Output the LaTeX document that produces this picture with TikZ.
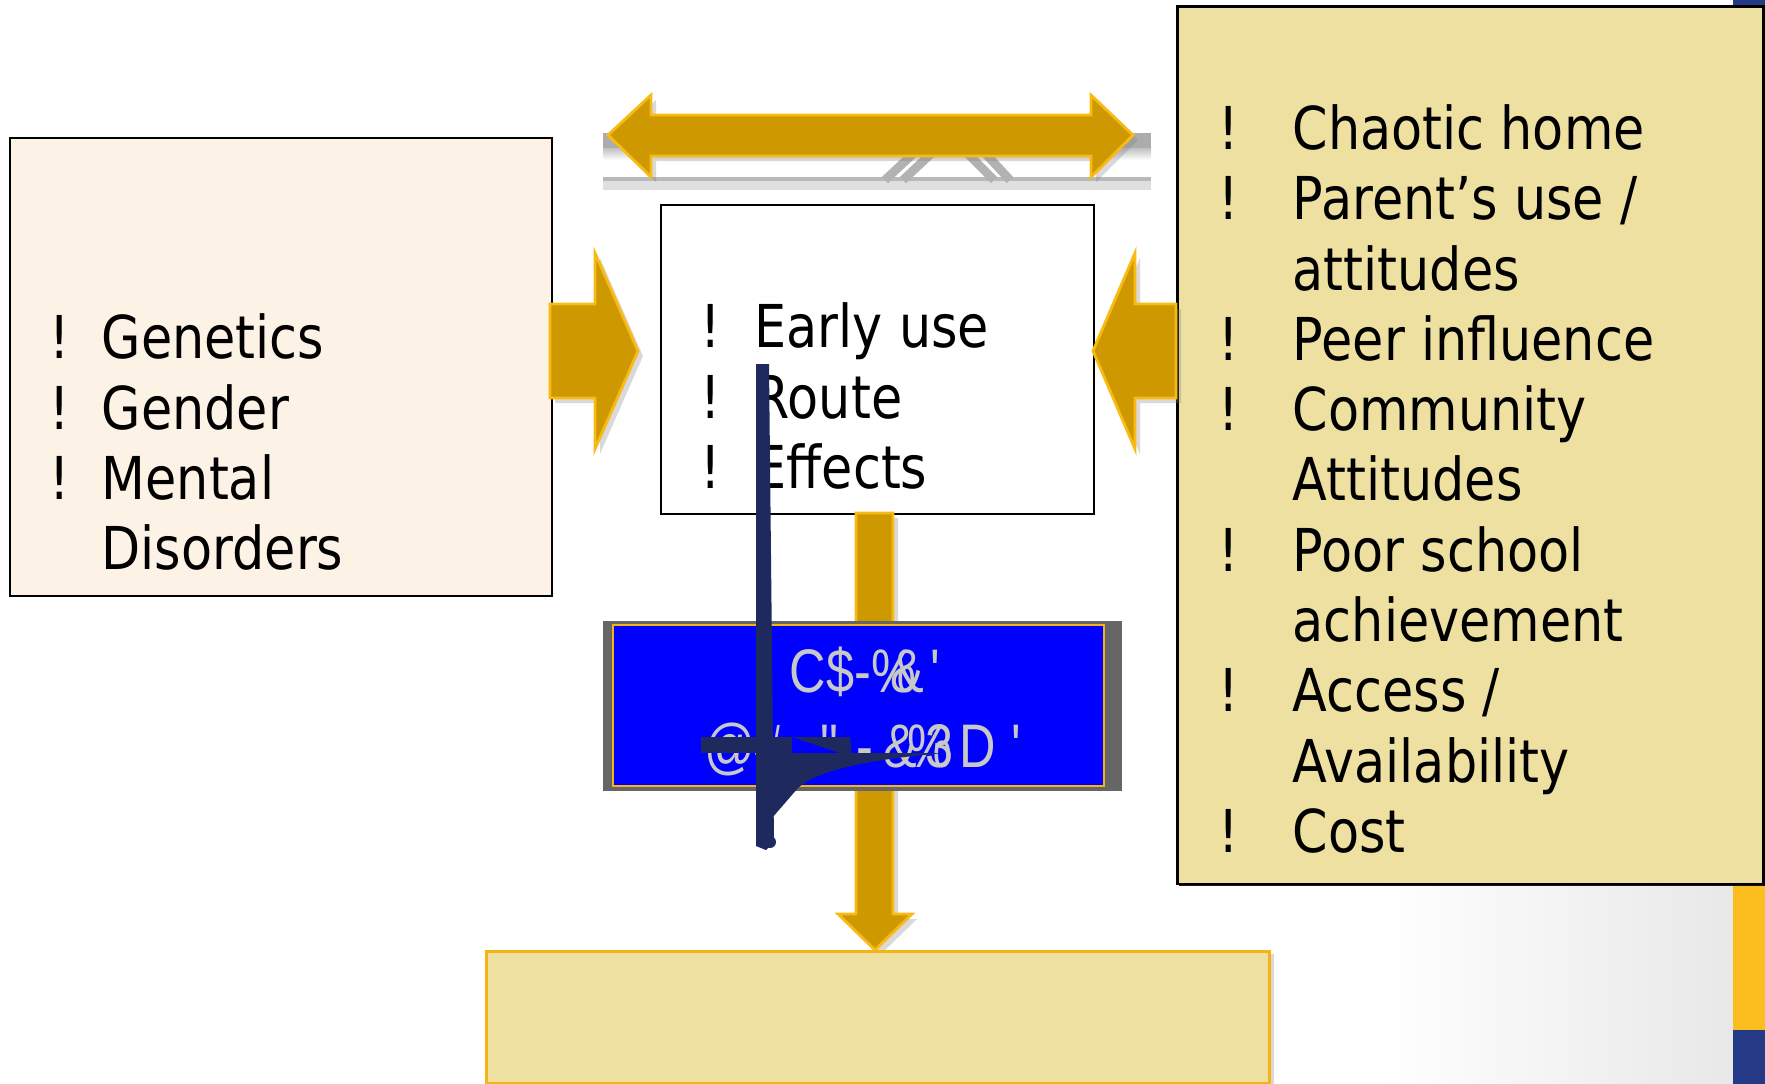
\documentclass[tikz,border=0pt]{standalone}
\usepackage{fontspec}
\setmainfont{DejaVu Sans}[FakeStretch=0.86]
\newfontfamily\glitchfont{Liberation Sans}[FakeStretch=0.82]
\usetikzlibrary{shadows}
\definecolor{arrowgold}{RGB}{206,153,0}
\definecolor{arrowedge}{RGB}{248,186,20}
\definecolor{linen}{RGB}{253,242,230}
\definecolor{khaki}{RGB}{238,224,161}
\definecolor{glitchnavy}{RGB}{30,42,94}
\definecolor{glitchgray}{RGB}{200,200,200}
\definecolor{backdrop}{RGB}{102,102,102}
\definecolor{stripyellow}{RGB}{250,190,30}
\definecolor{stripnavy}{RGB}{37,58,134}
\definecolor{boxedge}{RGB}{245,180,20}
\begin{document}
\begin{tikzpicture}[x=0.01cm, y=-0.01cm,
    box/.style={draw=black, line width=0.6pt, anchor=north west, inner sep=0},
    fatarrow/.style={fill=arrowgold, draw=arrowedge, line width=0.8pt,
      drop shadow={opacity=0.3, shadow xshift=0.05cm, shadow yshift=-0.05cm}},
    item/.style={anchor=base west, inner sep=0, font=\fontsize{16.8}{20}\selectfont},
    glitch/.style={anchor=base west, inner sep=0, text=glitchgray,
      font=\glitchfont\fontsize{17.5}{20}\selectfont}]
  \useasboundingbox (0,0) rectangle (1765,1084);
  % slide background
  \shade[left color=white, right color=gray!18] (1380,884) rectangle (1733,1084);
  \fill[stripnavy] (1733,0) rectangle (1765,884);
  \fill[stripyellow] (1733,884) rectangle (1765,1030);
  \fill[stripnavy] (1733,1030) rectangle (1765,1084);
  % broken picture behind the top arrow
  \fill[gray!65] (603,133) rectangle (1151,148);
  \shade[top color=gray!50, bottom color=white] (603,148) rectangle (1151,160);
  \draw[gray!55, line width=1pt] (603,179) -- (1151,179);
  \fill[gray!25] (603,181) rectangle (1151,190);
  \draw[gray!60, line width=2.5pt] (885,180) -- (915,152) (903,180) -- (933,152)
    (966,152) -- (994,180) (984,152) -- (1010,180);
  % boxes
  \node[box, fill=linen, minimum width=5.42cm, minimum height=4.58cm] (risk) at (9,137) {};
  \node[box, fill=white, minimum width=4.33cm, minimum height=3.09cm] (use) at (660,204) {};
  \node[box, fill=khaki, line width=0.8pt, minimum width=5.86cm, minimum height=8.77cm,
    drop shadow={opacity=0.9, fill=black, shadow xshift=0.02cm, shadow yshift=-0.02cm}]
    (env) at (1176,5) {};
  % arrows
  \draw[fatarrow] (608,135) -- (651,95) -- (651,115) -- (1091,115) -- (1091,95) -- (1133,135)
    -- (1091,177) -- (1091,156) -- (651,156) -- (651,177) -- cycle;
  \draw[fatarrow] (550,304) -- (595,304) -- (595,253) -- (638,351) -- (595,449) -- (595,398)
    -- (550,398) -- cycle;
  \draw[fatarrow] (1176,304) -- (1135,304) -- (1135,253) -- (1093,351) -- (1135,449)
    -- (1135,398) -- (1176,398) -- cycle;
  \draw[fatarrow] (856,513) -- (893,513) -- (893,914) -- (912,914) -- (875,950) -- (838,914)
    -- (856,914) -- cycle;
  % message box
  \fill[backdrop] (603,621) rectangle (1122,791);
  \node[box, fill=blue, draw=boxedge, minimum width=4.91cm, minimum height=1.61cm] (msg)
    at (612,624) {};
  \path (789,692) node[glitch] (msga) {C\$-\%\kern-7.1pt\&\kern1.7pt\symbol{39}}
        (704,767) node[glitch] (msgb) {@\#\kern10.5pt\symbol{34}\kern5.1pt-\kern2.8pt\&\kern-2.6pt\%\kern-7.7pt3\kern1.7ptD\kern4.3pt\symbol{39}};
  \node[box, fill=khaki, draw=boxedge, line width=0.8pt, minimum width=7.83cm,
    minimum height=1.32cm, drop shadow={opacity=0.3, shadow xshift=0.04cm,
    shadow yshift=-0.03cm}] (out) at (485,950) {};
  % texts
  \path (49,358) node[item] (riskb1) {!}
        (49,429) node[item] (riskb2) {!}
        (49,499) node[item] (riskb3) {!}
        (101,358) node[item] (genetics) {Genetics}
        (101,429) node[item] (gender) {Gender}
        (101,499) node[item] (mental) {Mental}
        (101,569) node[item] (disorders) {Disorders};
  \path (700,347) node[item] (useb1) {!}
        (700,418) node[item] (useb2) {!}
        (700,488) node[item] (useb3) {!}
        (754,347) node[item] (early) {Early use}
        (754,418) node[item] (route) {Route}
        (754,488) node[item] (effects) {Effects};
  \path (1218,149) node[item] (envb1) {!}
        (1218,219) node[item] (envb2) {!}
        (1218,360) node[item] (envb3) {!}
        (1218,430) node[item] (envb4) {!}
        (1218,571) node[item] (envb5) {!}
        (1218,711) node[item] (envb6) {!}
        (1218,852) node[item] (envb7) {!}
        (1292,149) node[item] (chaotic) {Chaotic home}
        (1292,219) node[item] (parents) {Parent’s use /}
        (1292,290) node[item] (attitudes) {attitudes}
        (1292,360) node[item] (peer) {Peer influence}
        (1292,430) node[item] (community) {Community}
        (1292,500) node[item] (cattitudes) {Attitudes}
        (1292,571) node[item] (school) {Poor school}
        (1292,641) node[item] (achieve) {achievement}
        (1292,711) node[item] (access) {Access /}
        (1292,782) node[item] (avail) {Availability}
        (1292,852) node[item] (cost) {Cost};
  % stray shape on top
  \fill[glitchnavy] (756,364) -- (769,364) -- (774,842) -- (766,850) -- (756,846) -- cycle;
  \fill[glitchnavy] (701,737) rectangle (792,753);
  \fill[glitchnavy] (792,737) -- (850,737) -- (852,757) -- cycle;
  \fill[glitchnavy] (772,753) -- (945,753) .. controls (860,760) and (815,772) .. (798,788)
    -- (772,818) -- cycle;
  \fill[glitchnavy] (770,842) circle (6);
\end{tikzpicture}
\end{document}
